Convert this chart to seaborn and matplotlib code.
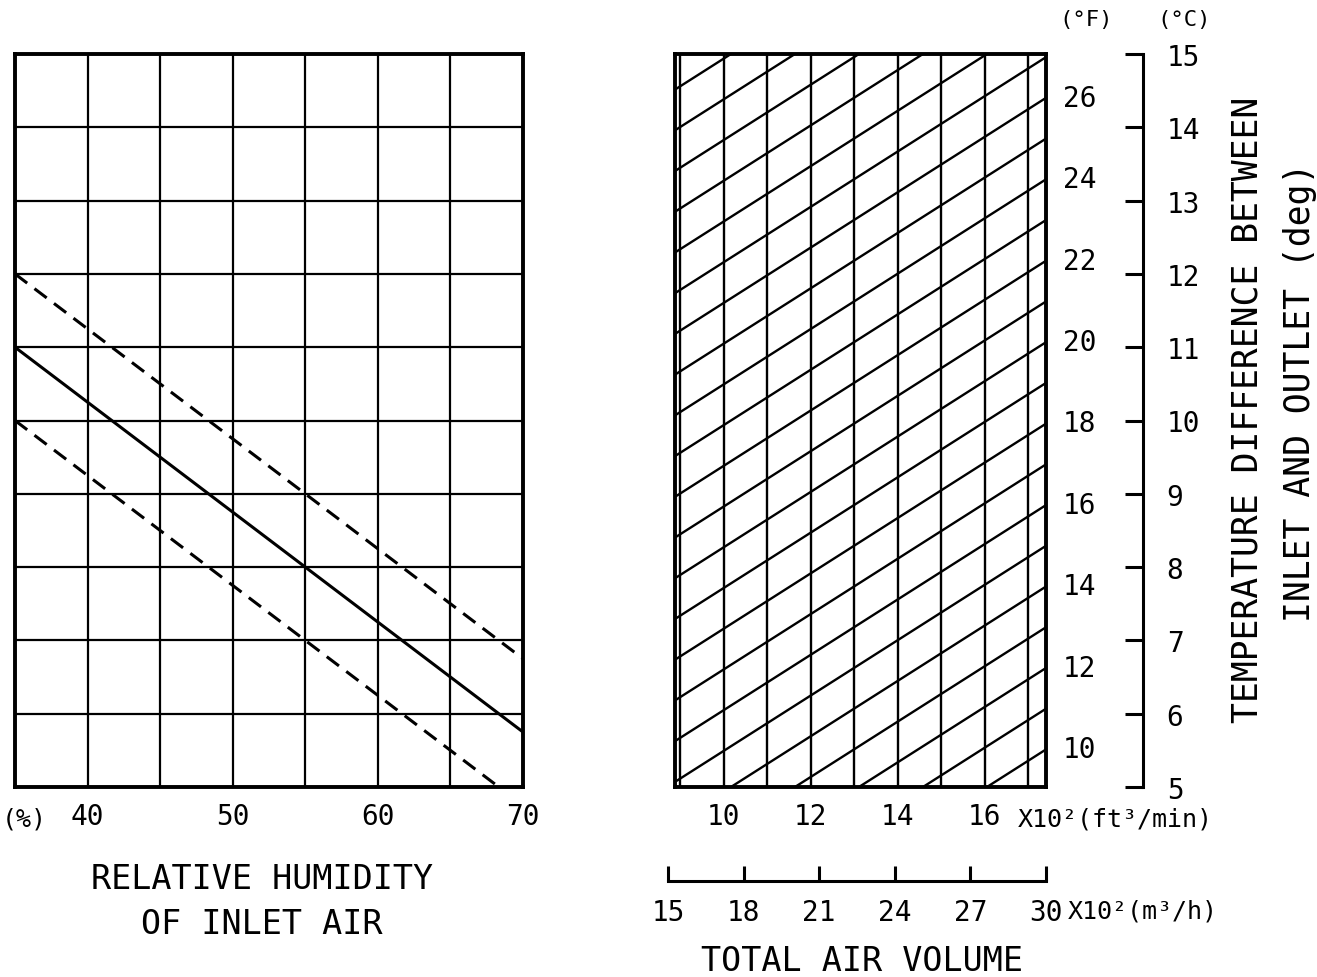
import numpy as np
import pandas as pd
import matplotlib
matplotlib.use("Agg")
import matplotlib.pyplot as plt
import seaborn as sns

# left chart: relative humidity of inlet air (%) vs temperature difference (deg C)
rh_ends = [35, 70]
solid_c = [11.0, 5.75]
upper_dash_c = [12.0, 6.75]
lower_dash_c = [10.0, 4.75]
rh_grid = [35, 40, 45, 50, 55, 60, 65, 70]
rh_ticks = [40, 50, 60, 70]
c_grid = [5, 6, 7, 8, 9, 10, 11, 12, 13, 14, 15]

# right chart: total air volume (x10^2 ft3/min) vs temperature difference (deg F)
flow_lim = [8.885, 17.41]
flow_grid = [9, 10, 11, 12, 13, 14, 15, 16, 17]
flow_ticks = [10, 12, 14, 16]
diag_base_f = [4, 5, 6, 7, 8, 9, 10, 11, 12, 13, 14, 15, 16, 17, 18, 19, 20, 21, 22, 23, 24, 25, 26]
diag_anchor_flow = 8.7
diag_slope = 0.68      # deg F per 10^2 ft3/min
f_lim = [9, 27]
f_ticks = [10, 12, 14, 16, 18, 20, 22, 24, 26]
c_ticks = [5, 6, 7, 8, 9, 10, 11, 12, 13, 14, 15]
m3h_ticks = [15, 18, 21, 24, 27, 30]

sns.set_style("white")
plt.rcParams['font.family'] = ['DejaVu Sans Mono', 'DejaVu Sans']
plt.rcParams['text.color'] = 'black'
plt.rcParams['xtick.color'] = 'black'
plt.rcParams['ytick.color'] = 'black'
plt.rcParams['axes.labelcolor'] = 'black'

W, H = 1317, 978
fig = plt.figure(figsize=(W / 100, H / 100), dpi=100)


def box(x0, y0, x1, y1):
    return [x0 / W, 1 - y1 / H, (x1 - x0) / W, (y1 - y0) / H]


def pt(x, y):
    return x / W, 1 - y / H


tick_fs = 20
title_fs = 24

# ---- left panel ----
ax_l = fig.add_axes(box(15, 55, 523, 788))
sns.lineplot(x=rh_ends, y=solid_c, ax=ax_l, color='black', lw=2.2)
sns.lineplot(x=rh_ends, y=upper_dash_c, ax=ax_l, color='black', lw=2.2, linestyle=(0, (5, 3)))
sns.lineplot(x=rh_ends, y=lower_dash_c, ax=ax_l, color='black', lw=2.2, linestyle=(0, (5, 3)))
ax_l.set_xlim(35, 70)
ax_l.set_ylim(5, 15)
ax_l.set_xticks(rh_ticks)
ax_l.set_xticks(rh_grid, minor=True)
ax_l.set_yticks(c_grid)
ax_l.set_yticklabels([])
ax_l.grid(True, which='both', color='black', lw=1.6)
ax_l.tick_params(which='both', length=0, labelsize=tick_fs, pad=11)
ax_l.set_xlabel('')
ax_l.set_ylabel('')
for s in ax_l.spines.values():
    s.set_visible(True)
    s.set_color('black')
    s.set_linewidth(2.8)

fig.text(*pt(24, 820), '(%)', fontsize=18, ha='center', va='center')
fig.text(*pt(262, 902), 'RELATIVE HUMIDITY\nOF INLET AIR', fontsize=title_fs,
         ha='center', va='center', linespacing=1.45)

# ---- right panel ----
ax_r = fig.add_axes(box(675, 55, 1046, 788))
rows = []
for n in diag_base_f:
    for fl in [flow_lim[0] - 0.5, flow_lim[1] + 0.5]:
        rows.append((n, fl, n + diag_slope * (fl - diag_anchor_flow)))
diag_df = pd.DataFrame(rows, columns=['line', 'flow', 'degf'])
sns.lineplot(data=diag_df, x='flow', y='degf', units='line', estimator=None,
             color='black', lw=1.7, ax=ax_r)
ax_r.set_xlim(*flow_lim)
ax_r.set_ylim(*f_lim)
ax_r.set_xticks(flow_ticks)
ax_r.set_xticks(flow_grid, minor=True)
ax_r.grid(True, axis='x', which='both', color='black', lw=1.7)
ax_r.grid(False, axis='y')
ax_r.yaxis.tick_right()
ax_r.set_yticks(f_ticks)
ax_r.tick_params(which='both', length=0, labelsize=tick_fs)
ax_r.tick_params(axis='x', pad=11)
ax_r.tick_params(axis='y', pad=12)
ax_r.set_xlabel('')
ax_r.set_ylabel('')
for s in ax_r.spines.values():
    s.set_visible(True)
    s.set_color('black')
    s.set_linewidth(2.8)

fig.text(*pt(1018, 820), 'X10²(ft³/min)', fontsize=18, ha='left', va='center')

# ---- deg C bracket axis ----
ax_c = fig.add_axes(box(1143, 55, 1143.1, 788))
ax_c.set_ylim(5, 15)
ax_c.set_xticks([])
ax_c.set_yticks(c_ticks)
for name, s in ax_c.spines.items():
    s.set_visible(name == 'left')
ax_c.spines['left'].set_linewidth(2.2)
ax_c.spines['left'].set_color('black')
ax_c.tick_params(axis='y', direction='out', length=13, width=2.2, left=True, right=False,
                 labelleft=False, labelright=True, pad=4, labelsize=tick_fs)
ax_c.patch.set_visible(False)

fig.text(*pt(1086, 20), '(°F)', fontsize=16, ha='center', va='center')
fig.text(*pt(1184, 20), '(°C)', fontsize=16, ha='center', va='center')

# ---- m3/h bracket axis ----
ax_m = fig.add_axes(box(668, 881.9, 1046, 882))
ax_m.set_xlim(15, 30)
ax_m.set_yticks([])
ax_m.set_xticks(m3h_ticks)
for name, s in ax_m.spines.items():
    s.set_visible(name == 'bottom')
ax_m.spines['bottom'].set_linewidth(2.2)
ax_m.spines['bottom'].set_color('black')
ax_m.tick_params(axis='x', direction='in', length=11, width=2.2, bottom=True, top=False,
                 labelbottom=True, pad=12, labelsize=tick_fs)
ax_m.patch.set_visible(False)

fig.text(*pt(1068, 912), 'X10²(m³/h)', fontsize=18, ha='left', va='center')
fig.text(*pt(862, 962), 'TOTAL AIR VOLUME', fontsize=title_fs, ha='center', va='center')

fig.text(*pt(1247, 410), 'TEMPERATURE DIFFERENCE BETWEEN', fontsize=25,
         rotation=90, ha='center', va='center')
fig.text(*pt(1300, 392), 'INLET AND OUTLET (deg)', fontsize=25,
         rotation=90, ha='center', va='center')

fig.savefig('out.png', dpi=100, facecolor='white')
